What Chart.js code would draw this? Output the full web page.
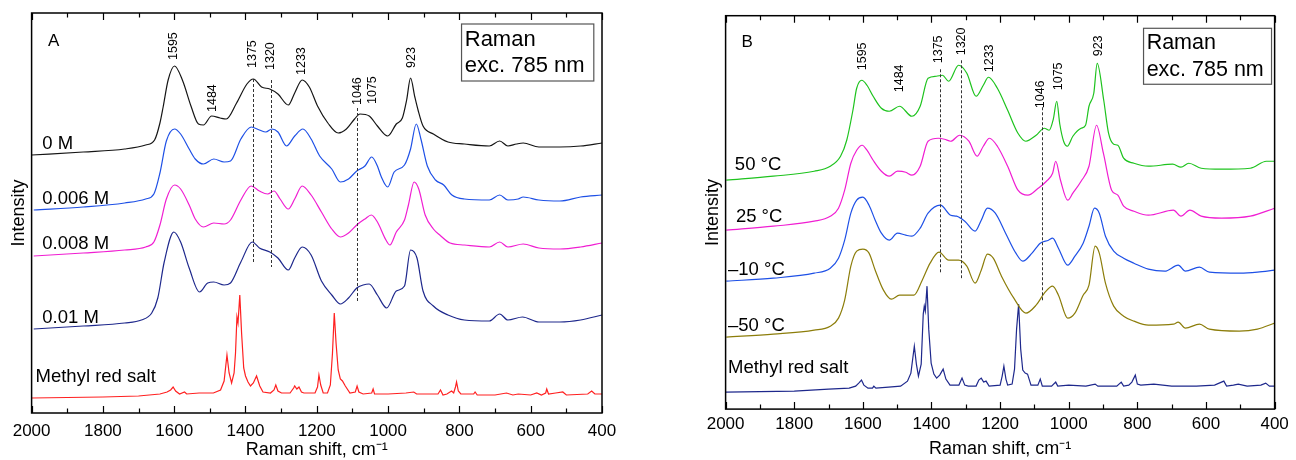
<!DOCTYPE html>
<html>
<head>
<meta charset="utf-8">
<script src="https://cdn.jsdelivr.net/npm/chart.js@4.4.1/dist/chart.umd.min.js"></script>
<style>
  body { margin: 0; background: #fff; width: 1296px; height: 460px; overflow: hidden; position: relative; }
  canvas { position: absolute; top: 0; }
  #chartA { left: 0; }
  #chartB { left: 646px; }
</style>
</head>
<body>
<canvas id="chartA" width="650" height="460"></canvas>
<canvas id="chartB" width="650" height="460"></canvas>
<script>
// ---- panel A: concentration series (wavenumber, intensity a.u.) ----
const wnA0 = [2000,1855,1739,1680,1655,1640,1631,1617,1599,1576,1553,1532,1518,1495,1471,1454,1425,1396,1378,1355,1332,1309,1280,1262,1241,1221,1198,1169,1140,1117,1094,1079,1053,1030,1001,977,960,948,937,925,916,902,873,832,786,716,687,664,640,621,577,518,460,400];
const intA0 = [258,261,264,268,273,290,306,333,347,332,307,289,288,297,295,294,310,329,334,326,324,319,308,320,333,326,307,290,280,284,294,299,297,287,277,289,295,313,335,316,303,287,279,271,269,267,272,267,269,270,266,266,267,270];

const wnA1 = [1994,1855,1739,1680,1657,1640,1622,1599,1582,1558,1541,1518,1489,1460,1442,1413,1384,1361,1343,1326,1309,1285,1262,1239,1216,1192,1158,1134,1111,1088,1065,1046,1030,1020,1001,983,954,937,921,908,890,867,844,821,786,716,687,664,635,621,577,518,460,400];
const intA1 = [203,206,210,214,219,240,272,284,279,264,254,249,254,251,252,274,286,283,281,284,281,267,277,284,274,257,244,231,234,242,247,256,247,237,226,241,248,264,289,274,247,233,228,218,214,213,218,213,214,216,213,212,216,218];

const wnA2 = [1994,1855,1739,1680,1657,1640,1622,1599,1582,1558,1541,1518,1489,1460,1442,1413,1384,1361,1338,1320,1303,1280,1262,1241,1216,1187,1158,1134,1111,1088,1065,1047,1030,1006,995,977,954,943,927,914,896,873,855,826,786,716,687,664,621,577,518,460,400];
const intA2 = [157,160,163,166,171,188,214,228,224,208,194,186,190,189,193,213,227,222,219,222,214,204,214,227,218,201,184,176,180,188,194,198,191,173,168,181,193,208,231,224,198,184,178,170,168,166,171,166,169,165,164,166,170];

const wnA3 = [1994,1855,1739,1692,1663,1646,1628,1601,1582,1558,1529,1506,1489,1460,1442,1413,1381,1361,1332,1309,1280,1262,1241,1216,1187,1158,1134,1111,1088,1070,1053,1030,1004,977,954,937,919,902,873,832,786,716,687,664,623,577,518,460,400];
const intA3 = [84,87,90,93,100,115,151,181,171,145,121,130,131,128,130,151,171,165,161,155,143,155,166,158,132,118,109,115,125,128,129,118,105,122,127,163,155,122,107,98,93,92,99,93,96,91,91,93,98];

const wnA4 = [2000,1800,1700,1640,1620,1610,1603,1596,1585,1571,1565,1530,1490,1470,1460,1452,1446,1439,1432,1428,1424,1421,1416,1411,1405,1400,1393,1386,1378,1369,1360,1351,1330,1320,1315,1309,1299,1275,1265,1262,1256,1250,1243,1236,1205,1198,1194,1189,1182,1170,1162,1156,1151,1146,1140,1134,1128,1120,1107,1092,1087,1082,1070,1046,1042,1038,1000,950,928,920,860,853,846,835,822,816,811,808,803,796,760,756,750,700,668,650,635,600,583,570,558,555,550,530,510,500,440,429,420,400];
const intA4 = [15,16,17,19,21,23,26,22,19,21,19,20,20,23,32,58,40,30,40,60,96,90,118,80,45,37,31,27,30,37,27,21,20,23,28,22,20,20,25,27,24,26,21,20,20,26,38,28,20,20,28,60,100,70,43,34,32,27,20,21,27,21,19,20,24,19,19,20,21,19,19,23,18,19,22,20,26,31,22,19,19,21,18,18,20,18,19,18,20,18,20,24,19,20,21,18,19,22,19,19];

// ---- panel B: temperature series ----
const wnB0 = [1998,1861,1742,1695,1665,1647,1629,1618,1603,1588,1570,1546,1523,1493,1457,1433,1410,1386,1368,1350,1321,1297,1270,1249,1234,1208,1178,1148,1125,1095,1071,1057,1045,1035,1026,1015,1004,988,964,951,941,927,917,898,884,869,857,840,810,768,697,673,650,614,555,471,424,400];
const intB0 = [229,233,238,243,253,269,299,321,329,324,313,301,298,303,293,303,331,333,334,328,344,336,313,324,332,321,299,276,268,274,281,279,290,308,285,268,263,273,281,284,303,316,346,309,276,265,264,251,246,243,245,242,246,241,240,241,248,248];

const wnB1 = [1998,1861,1742,1695,1671,1653,1635,1618,1602,1588,1570,1546,1523,1499,1475,1457,1433,1410,1380,1362,1344,1318,1291,1267,1249,1231,1208,1178,1148,1119,1089,1065,1047,1038,1024,1003,988,964,941,919,899,875,857,840,810,768,695,673,647,614,555,471,400];
const intB1 = [179,183,188,193,201,219,246,259,264,259,249,238,233,238,237,234,243,268,271,270,268,274,268,253,263,271,263,243,219,214,221,228,236,248,229,209,216,228,243,284,256,219,214,203,198,194,199,193,199,193,191,193,201];

const wnB2 = [1998,1861,1742,1695,1671,1653,1635,1618,1600,1582,1564,1546,1523,1499,1475,1457,1433,1410,1374,1344,1327,1303,1273,1255,1237,1214,1184,1154,1134,1107,1083,1059,1047,1030,1003,982,958,941,925,911,893,869,840,810,768,720,681,660,619,590,500,450,400];
const intB2 = [128,131,136,141,151,169,196,209,212,204,189,176,169,176,174,173,181,196,204,194,193,188,178,189,201,196,176,156,148,156,166,169,171,161,144,153,166,183,201,196,173,158,151,146,140,138,144,138,142,137,136,137,139];

const wnB3 = [1998,1861,1742,1695,1671,1653,1635,1618,1600,1582,1564,1540,1517,1493,1475,1451,1427,1404,1378,1350,1321,1297,1273,1255,1237,1220,1196,1160,1125,1095,1071,1047,1030,1003,982,958,941,923,911,893,869,840,810,768,695,681,660,619,590,503,450,400];
const intB3 = [72,75,79,83,91,109,143,158,160,156,139,119,110,114,114,114,129,146,157,149,149,143,126,139,155,151,133,111,96,104,116,123,114,91,96,114,124,163,156,126,103,93,88,84,85,87,81,85,80,78,80,86];

const wnB4 = [2000,1800,1700,1640,1621,1612,1604,1597,1585,1572,1568,1562,1525,1490,1470,1460,1450,1444,1438,1430,1424,1421,1418,1413,1408,1401,1393,1385,1376,1366,1358,1346,1320,1311,1303,1293,1270,1262,1255,1248,1241,1232,1200,1194,1189,1183,1178,1165,1158,1152,1146,1140,1134,1127,1120,1110,1090,1083,1077,1050,1038,1032,1000,950,923,915,860,847,840,825,816,806,800,790,752,700,660,628,575,548,540,520,506,480,440,426,415,400];
const intB4 = [17,18,20,21,23,26,29,24,21,21,23,21,22,23,28,36,63,45,33,45,95,103,98,123,80,46,35,31,34,40,30,24,24,31,24,23,23,29,31,27,28,23,24,33,43,30,24,25,40,80,105,60,39,36,35,24,24,30,23,23,27,23,24,23,25,23,23,27,23,24,27,34,25,24,25,23,23,23,24,28,23,24,25,23,24,26,23,23];

const seriesNamesA = ['0 M', '0.006 M', '0.008 M', '0.01 M', 'Methyl red salt'];
const seriesNamesB = ['50 °C', '25 °C', '–10 °C', '–50 °C', 'Methyl red salt'];
const peakNames = ['1595', '1484', '1375', '1320', '1233', '1046', '1075', '923'];

const FONT = '"Liberation Sans", Arial, Helvetica, sans-serif';

function pts(xs, ys) {
  return xs.map((x, i) => ({ x: x, y: ys[i] }));
}

function line(xs, ys, color, sharp) {
  return {
    data: pts(xs, ys),
    borderColor: color,
    borderWidth: 1.2,
    pointRadius: 0,
    fill: false,
    tension: sharp ? 0 : 0.4,
    cubicInterpolationMode: sharp ? 'default' : 'monotone'
  };
}

// draws frame, inward ticks, dashed markers and text labels on top of the plot
function makeOverlay(cfg) {
  return {
    id: 'overlay',
    afterDatasetsDraw(chart) {
      const { ctx, chartArea: a, scales } = chart;
      const X = v => scales.x.getPixelForValue(v);
      const Y = v => scales.y.getPixelForValue(v);
      ctx.save();

      // dashed guide lines
      ctx.strokeStyle = '#333';
      ctx.lineWidth = 1;
      ctx.setLineDash([3, 2]);
      cfg.dashes.forEach(d => {
        const px = Math.round(X(d.wn)) + 0.5;
        ctx.beginPath();
        ctx.moveTo(px, Y(d.top));
        ctx.lineTo(px, Y(d.bottom));
        ctx.stroke();
      });
      ctx.setLineDash([]);

      // frame
      ctx.strokeStyle = '#000';
      ctx.lineWidth = 1.5;
      ctx.strokeRect(a.left, a.top, a.right - a.left, a.bottom - a.top);

      // inward ticks, major on labels, minor between
      ctx.lineWidth = 1.2;
      const major = scales.x.ticks.map(t => t.value);
      major.forEach(v => {
        [[v, 7], [v + 100, 4.5]].forEach(([val, len]) => {
          if (val > scales.x.max) return;
          const px = Math.round(X(val)) + 0.5;
          ctx.beginPath();
          ctx.moveTo(px, a.bottom);
          ctx.lineTo(px, a.bottom - len);
          ctx.moveTo(px, a.top);
          ctx.lineTo(px, a.top + len);
          ctx.stroke();
        });
      });

      ctx.fillStyle = '#000';

      // rotated peak labels
      ctx.font = '12.5px ' + FONT;
      ctx.textAlign = 'left';
      ctx.textBaseline = 'middle';
      cfg.peaks.forEach((p, i) => {
        ctx.save();
        ctx.translate(X(p.wn), Y(p.y));
        ctx.rotate(-Math.PI / 2);
        ctx.fillText(peakNames[i], 0, 0);
        ctx.restore();
      });

      // series labels
      ctx.font = '18.5px ' + FONT;
      cfg.labels.forEach((l, i) => ctx.fillText(cfg.names[i], X(l.wn), Y(l.y)));

      // panel letter
      ctx.font = '17px ' + FONT;
      ctx.textAlign = 'center';
      ctx.fillText(cfg.letter.text, X(cfg.letter.wn), Y(cfg.letter.y));

      // excitation box
      const b = cfg.box;
      ctx.strokeStyle = '#555';
      ctx.lineWidth = 1.2;
      ctx.strokeRect(X(b.wn1), Y(b.y1), X(b.wn2) - X(b.wn1), Y(b.y2) - Y(b.y1));
      ctx.font = b.size + 'px ' + FONT;
      ctx.textAlign = 'left';
      ctx.fillText('Raman', X(b.textWn), Y(b.line1));
      ctx.fillText('exc. 785 nm', X(b.textWn), Y(b.line2));

      ctx.restore();
    }
  };
}

// note: chart.js reserves the tick padding twice when sizing the axis,
// so the title gets a negative top padding to sit close under the labels
function makeOptions(yMax, pad, tickPad, titlePadTop) {
  return {
    responsive: false,
    animation: false,
    layout: { padding: pad },
    plugins: { legend: { display: false }, tooltip: { enabled: false } },
    scales: {
      x: {
        type: 'linear',
        reverse: true,
        min: 400,
        max: 2000,
        ticks: {
          stepSize: 200,
          color: '#000',
          padding: tickPad,
          maxRotation: 0,
          font: { family: FONT, size: 17, lineHeight: 1 },
          callback: v => String(v)
        },
        grid: { display: false, drawTicks: false },
        border: { display: false },
        title: {
          display: true,
          text: 'Raman shift, cm⁻¹',
          color: '#000',
          font: { family: FONT, size: 18, lineHeight: 1 },
          padding: { top: titlePadTop, bottom: 0 }
        }
      },
      y: {
        min: 0,
        max: yMax,
        ticks: { display: false },
        grid: { display: false, drawTicks: false },
        border: { display: false },
        title: {
          display: true,
          text: 'Intensity',
          color: '#000',
          font: { family: FONT, size: 18, lineHeight: 1.2 },
          padding: { top: 0, bottom: 2 }
        }
      }
    }
  };
}

new Chart(document.getElementById('chartA'), {
  type: 'line',
  data: {
    datasets: [
      line(wnA0, intA0, '#151515'),
      line(wnA1, intA1, '#1e50e6'),
      line(wnA2, intA2, '#f01ed2'),
      line(wnA3, intA3, '#1e288c'),
      line(wnA4, intA4, '#ff2020', true)
    ]
  },
  options: makeOptions(400, { left: 8, top: 13, right: 48, bottom: 0.5 }, 10, -8.5),
  plugins: [makeOverlay({
    names: seriesNamesA,
    letter: { text: 'A', wn: 1938, y: 372 },
    box: { wn1: 794, wn2: 423, y1: 389, y2: 332, textWn: 785, line1: 373, line2: 347, size: 22 },
    peaks: [
      { wn: 1601, y: 353 }, { wn: 1493, y: 301 }, { wn: 1380, y: 345 }, { wn: 1329, y: 343 },
      { wn: 1243, y: 338 }, { wn: 1085, y: 308 }, { wn: 1043, y: 309 }, { wn: 934, y: 345 }
    ],
    dashes: [
      { wn: 1380, top: 334, bottom: 151 },
      { wn: 1329, top: 333, bottom: 146 },
      { wn: 1086, top: 305, bottom: 111 }
    ],
    labels: [
      { wn: 1970, y: 269 }, { wn: 1970, y: 214 }, { wn: 1970, y: 169 },
      { wn: 1970, y: 95 }, { wn: 1989, y: 36 }
    ]
  })]
});

new Chart(document.getElementById('chartB'), {
  type: 'line',
  data: {
    datasets: [
      line(wnB0, intB0, '#1ec31e'),
      line(wnB1, intB1, '#f01ed2'),
      line(wnB2, intB2, '#1e50e6'),
      line(wnB3, intB3, '#8c7d0a'),
      line(wnB4, intB4, '#1e288c', true)
    ]
  },
  options: makeOptions(393.6, { left: 56, top: 15.7, right: 15, bottom: 1.5 }, 7.2, 0),
  plugins: [makeOverlay({
    names: seriesNamesB,
    letter: { text: 'B', wn: 1937, y: 367 },
    box: { wn1: 782, wn2: 409, y1: 381, y2: 325, textWn: 773, line1: 366, line2: 339, size: 21.5 },
    peaks: [
      { wn: 1600, y: 339 }, { wn: 1494, y: 317 }, { wn: 1378, y: 346 }, { wn: 1311, y: 354 },
      { wn: 1230, y: 337 }, { wn: 1082, y: 301 }, { wn: 1030, y: 319 }, { wn: 913, y: 353 }
    ],
    dashes: [
      { wn: 1375, top: 340, bottom: 136 },
      { wn: 1315, top: 349, bottom: 131 },
      { wn: 1079, top: 302, bottom: 107 }
    ],
    labels: [
      { wn: 1973, y: 244 }, { wn: 1970, y: 192 }, { wn: 1993, y: 139 },
      { wn: 1993, y: 83 }, { wn: 1993, y: 41 }
    ]
  })]
});
</script>
</body>
</html>
